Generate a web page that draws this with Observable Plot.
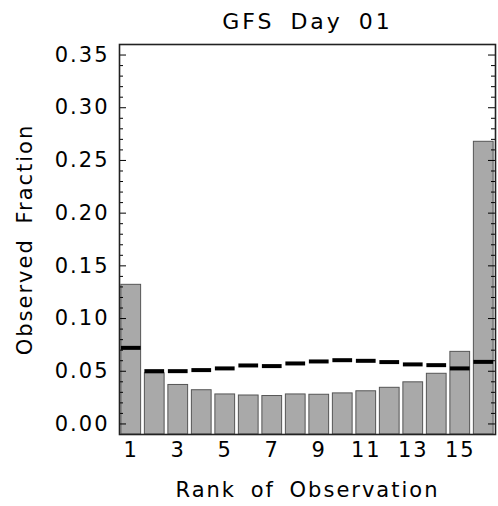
<!DOCTYPE html>
<html>
<head>
<meta charset="utf-8">
<script src="https://cdn.jsdelivr.net/npm/d3@7"></script>
<script src="https://cdn.jsdelivr.net/npm/@observablehq/plot@0.6"></script>
<style>
  body { margin: 0; background: #fff; }
  #chart svg text { letter-spacing: 2px; word-spacing: 6px; }
  #chart svg g.title text { letter-spacing: 3px; }
</style>
</head>
<body>
<div id="chart"></div>
<script>
// Rank histogram: observed fraction per rank, with the expected fraction as black dashes
const title = "GFS Day 01";
const xTitle = "Rank of Observation";
const yTitle = "Observed Fraction";
const ranks = [1, 2, 3, 4, 5, 6, 7, 8, 9, 10, 11, 12, 13, 14, 15, 16];
const observed = [0.132, 0.048, 0.037, 0.032, 0.028, 0.027, 0.0265, 0.028, 0.0277, 0.029, 0.031, 0.0343, 0.0395, 0.0476, 0.0684, 0.2677];
const expected = [0.0722, 0.0501, 0.0501, 0.0511, 0.0527, 0.0555, 0.0549, 0.0574, 0.0593, 0.0605, 0.0599, 0.0587, 0.0565, 0.0558, 0.0527, 0.0589];
const xTicks = [1, 3, 5, 7, 9, 11, 13, 15];
const yTicks = [0, 0.05, 0.10, 0.15, 0.20, 0.25, 0.30, 0.35];
const yMinorTicks = d3.range(0, 36).map(i => i / 100).filter(v => Math.round(v * 100) % 5 !== 0);
const yDomain = [-0.01, 0.36];

const data = ranks.map((r, i) => ({rank: r, observed: observed[i], expected: expected[i]}));
const half = 0.42;

const W = 498, H = 506;
const margin = {left: 119, right: 3, top: 44, bottom: 72};
const frameWidth = W - margin.left - margin.right;
const majorLen = 7, minorLen = 4;

const chart = Plot.plot({
  width: W,
  height: H,
  marginLeft: margin.left,
  marginRight: margin.right,
  marginTop: margin.top,
  marginBottom: margin.bottom,
  style: {fontFamily: "DejaVu Sans", fontSize: "21px", color: "black", background: "white"},
  x: {domain: [0.5, 16.5], label: null},
  y: {domain: yDomain, label: null},
  marks: [
    Plot.rectY(data, {
      x1: d => d.rank - half, x2: d => d.rank + half,
      y1: yDomain[0], y2: "observed",
      fill: "#a9a9a9", stroke: "#555", strokeWidth: 1
    }),
    Plot.ruleY(data, {
      x1: d => d.rank - half, x2: d => d.rank + half,
      y: "expected", stroke: "black", strokeWidth: 4
    }),
    // inward tick marks on the left and right edges
    Plot.tickY(yTicks, {y: d => d, insetRight: frameWidth - majorLen, stroke: "black"}),
    Plot.tickY(yMinorTicks, {y: d => d, insetRight: frameWidth - minorLen, stroke: "black"}),
    Plot.tickY(yTicks, {y: d => d, insetLeft: frameWidth - majorLen, stroke: "black"}),
    Plot.tickY(yMinorTicks, {y: d => d, insetLeft: frameWidth - minorLen, stroke: "black"}),
    Plot.frame({stroke: "#222", strokeWidth: 1.6}),
    Plot.axisY(yTicks, {anchor: "left", tickSize: 0, tickPadding: 10, tickFormat: d3.format(".2f"), label: null}),
    Plot.axisX(xTicks, {anchor: "bottom", tickSize: 0, tickPadding: 8, label: null}),
    Plot.text([title], {text: d => d, frameAnchor: "top", lineAnchor: "middle", dy: -23, fontSize: 22, className: "title"}),
    Plot.text([xTitle], {text: d => d, frameAnchor: "bottom", lineAnchor: "middle", dy: 56}),
    Plot.text([yTitle], {text: d => d, frameAnchor: "left", textAnchor: "middle", lineAnchor: "middle", rotate: -90, dx: -94})
  ]
});
document.getElementById("chart").appendChild(chart);
</script>
</body>
</html>
